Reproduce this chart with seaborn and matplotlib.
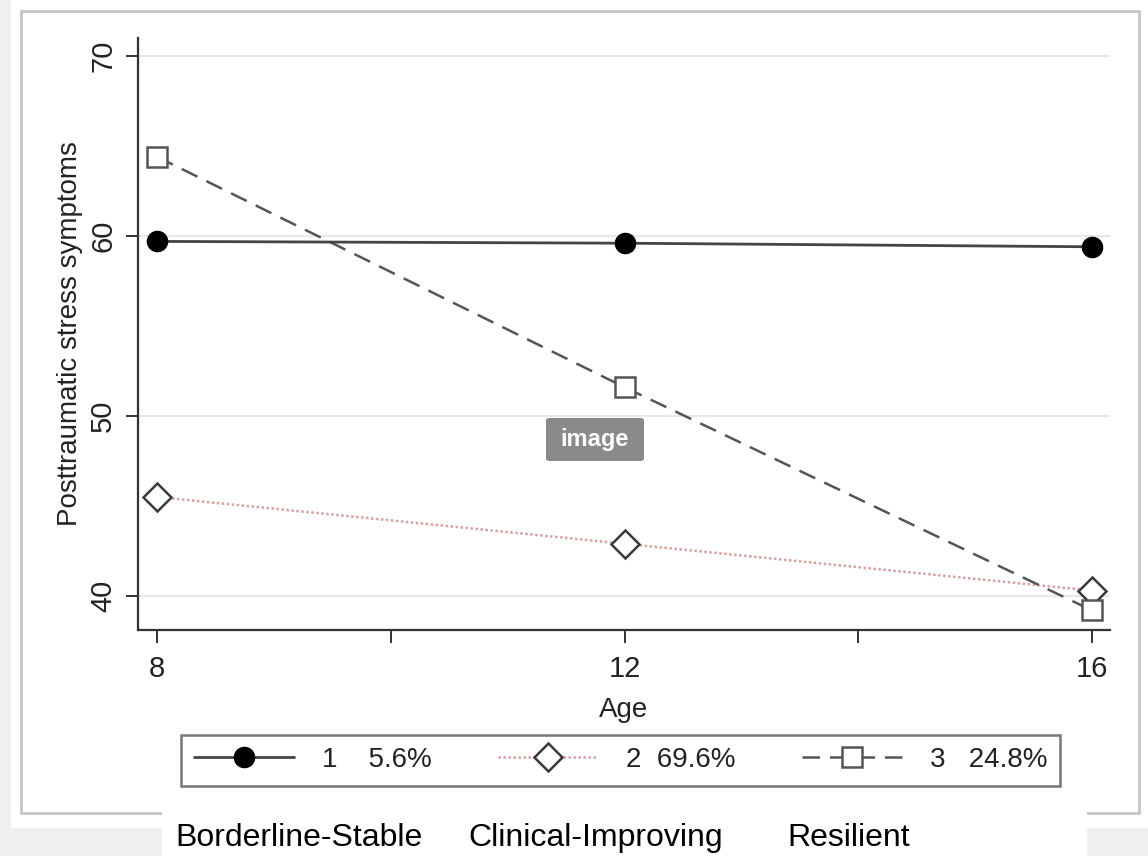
import matplotlib
matplotlib.use("Agg")
import matplotlib.pyplot as plt
from matplotlib.patches import Rectangle, FancyBboxPatch
import seaborn as sns

# Values
ages = [8, 12, 16]
borderline_stable = [59.7, 59.6, 59.4]
clinical_improving = [45.5, 42.9, 40.3]
resilient = [64.4, 51.6, 39.2]
legend_labels = ["1    5.6%", "2  69.6%", "3   24.8%"]
class_names = ["Borderline-Stable", "Clinical-Improving", "Resilient"]
y_ticks = [40, 50, 60, 70]
x_major = [8, 12, 16]
x_minor = [10, 14]

sns.set_theme(style="white")
plt.rcParams['font.family'] = ['Liberation Sans', 'DejaVu Sans']

W, H = 1148, 856
fig = plt.figure(figsize=(W / 100, H / 100), dpi=100)
fig.patch.set_facecolor("white")

def fx(px):
    return px / W

def fy(py):
    return 1 - py / H

# screenshot background / frame
fig.patches.append(Rectangle((0, fy(828)), fx(11), 1, transform=fig.transFigure,
                             facecolor="#f0f0f0", edgecolor="none", zorder=-10))
fig.patches.append(Rectangle((0, 0), 1, fy(828), transform=fig.transFigure,
                             facecolor="#f0f0f0", edgecolor="none", zorder=-10))
fig.patches.append(Rectangle((fx(21), fy(813)), fx(1139 - 21), (813 - 11) / H,
                             transform=fig.transFigure, fill=False,
                             edgecolor="#c4c4c4", lw=2, zorder=-9))
fig.patches.append(Rectangle((fx(162), 0), fx(1087 - 162), fy(800),
                             transform=fig.transFigure, facecolor="white",
                             edgecolor="none", zorder=-8))

ax = fig.add_axes([fx(138), fy(630), fx(1110 - 138), (630 - 38) / H])

line_col = "#444444"
sns.lineplot(x=ages, y=borderline_stable, ax=ax, color=line_col, lw=2,
             marker="o", markersize=14.5, mfc="black", mec="black", mew=1,
             label=legend_labels[0], zorder=4)
sns.lineplot(x=ages, y=clinical_improving, ax=ax, color="#d9a0a0", lw=1.8,
             linestyle=(0, (1, 1)), marker="D", markersize=14.5, mfc="white",
             mec="#3a3a3a", mew=1.8, label=legend_labels[1], zorder=3)
sns.lineplot(x=ages, y=resilient, ax=ax, color="#555555", lw=1.8,
             linestyle=(0, (7, 4)), marker="s", markersize=15, mfc="white",
             mec="#555555", mew=1.8, label=legend_labels[2], zorder=3)

ax.set_xlim(7.837, 16.154)
ax.set_ylim(38.11, 71)
ax.set_yticks(y_ticks)
ax.set_xticks(x_major)
ax.set_xticks(x_minor, minor=True)
ax.grid(axis="y", color="#e3eaec", lw=1.5)
ax.grid(axis="x", visible=False)
ax.set_axisbelow(True)

for s in ["top", "right"]:
    ax.spines[s].set_visible(False)
for s in ["left", "bottom"]:
    ax.spines[s].set_color("#333333")
    ax.spines[s].set_linewidth(1.6)

ax.tick_params(axis="both", which="both", direction="out", length=9, width=1.4,
               color="#333333", labelsize=21, labelcolor="#222222")
ax.tick_params(axis="x", which="both", bottom=True, pad=9)
ax.tick_params(axis="y", left=True, pad=6)
for lab in ax.get_yticklabels():
    lab.set_rotation(90)
    lab.set_va("center")
    lab.set_ha("right")

ax.set_xlabel("Age", fontsize=20, color="#222222", labelpad=10)
ax.set_ylabel("Posttraumatic stress symptoms", fontsize=20, color="#222222")
ax.yaxis.set_label_coords(-0.057, 0.5)

leg = ax.legend(loc="center", bbox_to_anchor=(fx((183 + 1058) / 2), fy(760)),
                bbox_transform=fig.transFigure, ncol=3, fontsize=20,
                handlelength=3.6, handletextpad=1.0, columnspacing=2.4,
                frameon=True, fancybox=False, borderpad=0.45, numpoints=1)
leg.get_frame().set_edgecolor("#555555")
leg.get_frame().set_linewidth(1.8)
for t in leg.get_texts():
    t.set_color("#222222")

# labels under the screenshot
for name, px in zip(class_names, [175, 468, 787]):
    fig.text(fx(px), fy(838), name, ha="left", va="center", fontsize=23,
             color="black")

# "image" overlay badge from the screenshot
fig.patches.append(FancyBboxPatch((fx(546), fy(461)), fx(98), (461 - 418) / H,
                                  boxstyle="round,pad=0,rounding_size=0.003",
                                  transform=fig.transFigure, facecolor="#8a8a8a",
                                  edgecolor="none", zorder=10))
fig.text(fx(595), fy(440), "image", ha="center", va="center", fontsize=17,
         fontweight="bold", color="white", zorder=11)

fig.savefig("out.png", dpi=100)
